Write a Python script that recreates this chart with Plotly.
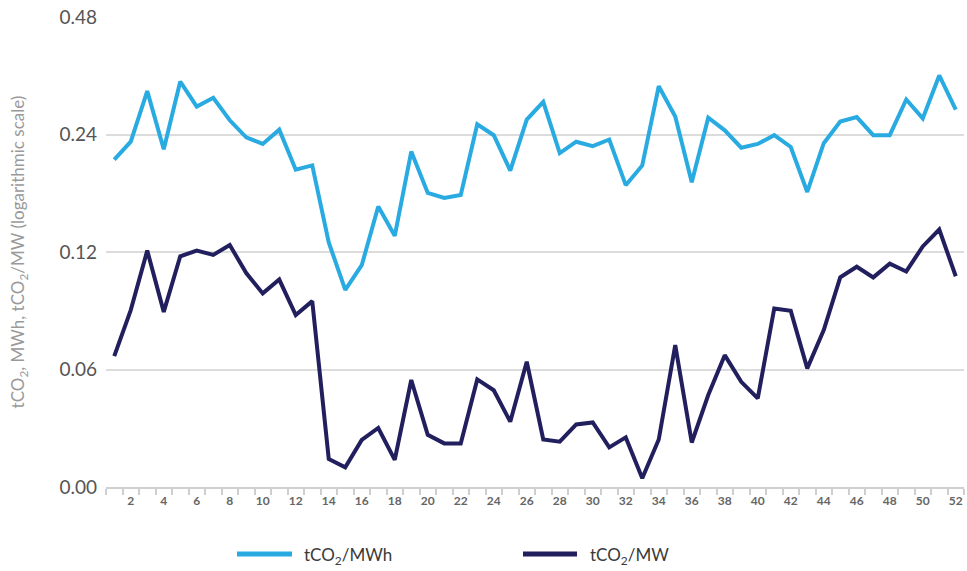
import plotly.graph_objects as go

weeks = list(range(1, 53))

t_per_mwh = [0.207, 0.230, 0.310, 0.220, 0.328, 0.283, 0.298, 0.261, 0.236, 0.227,
             0.247, 0.195, 0.200, 0.127, 0.096, 0.111, 0.157, 0.132, 0.217, 0.170,
             0.165, 0.168, 0.255, 0.239, 0.194, 0.262, 0.291, 0.215, 0.230, 0.224,
             0.233, 0.178, 0.200, 0.319, 0.267, 0.181, 0.265, 0.246, 0.222, 0.227,
             0.239, 0.223, 0.171, 0.228, 0.259, 0.266, 0.239, 0.239, 0.295, 0.264,
             0.340, 0.278]

t_per_mw = [0.0649, 0.0852, 0.121, 0.0843, 0.117, 0.121, 0.118, 0.125, 0.106, 0.094,
            0.102, 0.0827, 0.0898, 0.0354, 0.0337, 0.0396, 0.0425, 0.0352, 0.0564, 0.0408,
            0.0388, 0.0388, 0.0566, 0.0531, 0.0441, 0.0628, 0.0397, 0.0392, 0.0434, 0.0439,
            0.0379, 0.0402, 0.0316, 0.0397, 0.0693, 0.0390, 0.0516, 0.0653, 0.0558, 0.0506,
            0.0860, 0.0848, 0.0604, 0.0757, 0.1033, 0.110, 0.1033, 0.112, 0.107, 0.124,
            0.137, 0.104]

y_tickvals = [0.03, 0.06, 0.12, 0.24, 0.48]
y_ticktext = ["0.00", "0.06", "0.12", "0.24", "0.48"]
x_tickvals = list(range(2, 53, 2))

series_names = ["tCO<sub>2</sub>/MWh", "tCO<sub>2</sub>/MW"]
LIGHT = "#29ABE2"
DARK = "#221F5E"
FONT = "Lato, 'Open Sans', sans-serif"

fig = go.Figure()
fig.add_trace(go.Scatter(x=weeks, y=t_per_mwh, mode="lines", name=series_names[0],
                         line=dict(color=LIGHT, width=4)))
fig.add_trace(go.Scatter(x=weeks, y=t_per_mw, mode="lines", name=series_names[1],
                         line=dict(color=DARK, width=4)))

W, H = 967, 571
PL, PR, PT, PB = 106, 964, 16.5, 487
L, R, T, B = PL, W - PR, PT, H - PB
pw = PR - PL
ph = PB - PT

def px2paper(px, py):
    return (px - PL) / pw, (PB - py) / ph

# manual legend
legend_items = [(237, 292, 302, series_names[0], LIGHT), (523, 577, 588, series_names[1], DARK)]
shapes = []
annotations = []
for x0, x1, xt, name, col in legend_items:
    a0, yy = px2paper(x0, 554)
    a1, _ = px2paper(x1, 554)
    at, yt = px2paper(xt, 556)
    shapes.append(dict(type="line", xref="paper", yref="paper", x0=a0, x1=a1, y0=yy, y1=yy,
                       line=dict(color=col, width=5)))
    annotations.append(dict(xref="paper", yref="paper", x=at, y=yt, text=name, showarrow=False,
                            xanchor="left", yanchor="middle",
                            font=dict(family=FONT, size=17, color="#3a3a3a")))

fig.update_layout(
    width=W, height=H,
    margin=dict(l=L, r=R, t=T, b=B, autoexpand=False),
    paper_bgcolor="white", plot_bgcolor="white",
    showlegend=False,
    shapes=shapes, annotations=annotations,
    font=dict(family=FONT),
    xaxis=dict(range=[0.5, 52.5], tickmode="array", tickvals=x_tickvals,
               ticktext=[str(v) for v in x_tickvals], ticks="", showgrid=False,
               showline=True, linecolor="#cfcfcf", linewidth=1.5, zeroline=False,
               tickfont=dict(family=FONT, size=12, color="#666666", weight="bold"),
               minor=dict(tick0=0.5, dtick=1, ticks="outside", ticklen=6,
                          tickcolor="#cfcfcf", tickwidth=1.5, showgrid=False),
               ticklabelstandoff=2, ticklabeloverflow="allow"),
    yaxis=dict(type="log", range=[-1.52288, -0.31875], tickmode="array",
               tickvals=y_tickvals, ticktext=y_ticktext, showgrid=True,
               gridcolor="#dcdcdc", gridwidth=1.5, showline=False, zeroline=False,
               ticks="", ticklabelstandoff=8, ticklabeloverflow="allow",
               tickfont=dict(family=FONT, size=19, color="#555555"),
               title=dict(text="tCO<sub>2</sub>, MWh, tCO<sub>2</sub>/MW (logarithmic scale)",
                          font=dict(family=FONT, size=17, color="#9a9a9a"), standoff=30)),
)

fig.write_html("out.html", config={"displayModeBar": False},
               post_script="document.body.style.margin='0';document.body.style.overflow='hidden';")
